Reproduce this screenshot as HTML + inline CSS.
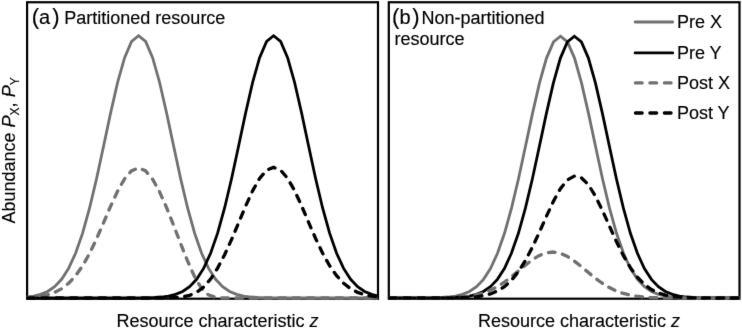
<!DOCTYPE html>
<html><head><meta charset="utf-8"><style>html,body{margin:0;padding:0;background:#fff;overflow:hidden}svg{display:block;will-change:transform}text{stroke:#000;stroke-width:0.15px}</style></head>
<body>
<svg width="742" height="329" viewBox="0 0 742 329">
<defs><filter id="b" x="0" y="0" width="742" height="329" filterUnits="userSpaceOnUse" color-interpolation-filters="sRGB"><feConvolveMatrix order="3" kernelMatrix="0.00524 0.06192 0.00524 0.06192 0.73137 0.06192 0.00524 0.06192 0.00524" divisor="1" edgeMode="duplicate"/></filter></defs><rect x="0" y="0" width="742" height="329" fill="#fff"/>
<g font-family="'Liberation Sans', sans-serif" font-size="18" fill="#000" filter="url(#b)">
<rect x="27.1" y="2.25" width="350.9" height="296.45" fill="none" stroke="#000" stroke-width="2.2"/>
<rect x="388.8" y="2.25" width="350.7" height="296.45" fill="none" stroke="#000" stroke-width="2.2"/>
<polyline points="27.50,296.93 33.60,296.07 40.60,294.37 47.60,291.45 54.60,286.69 61.60,279.31 68.60,268.44 75.60,253.25 82.60,233.14 89.60,208.00 96.60,178.47 103.60,146.03 110.60,113.03 117.60,82.49 124.60,57.63 131.60,41.36 138.60,35.70 145.60,41.36 152.60,57.63 159.60,82.49 166.60,113.03 173.60,146.03 180.60,178.47 187.60,208.00 194.60,233.14 201.60,253.25 208.60,268.44 215.60,279.31 222.60,286.69 229.60,291.45 236.60,294.37 243.60,296.07 250.60,297.02 257.60,297.52 264.60,297.78 271.60,297.90 278.60,297.96 285.60,297.98 292.60,297.99 299.60,298.00 306.60,298.00 313.60,298.00 320.60,298.00 327.60,298.00 334.60,298.00 341.60,298.00 348.60,298.00 355.60,298.00 362.60,298.00 369.60,298.00 376.60,298.00 377.50,298.00" fill="none" stroke="#707070" stroke-width="2.8" stroke-linejoin="miter"/>
<polyline points="27.50,298.00 28.60,298.00 35.60,298.00 42.60,298.00 49.60,298.00 56.60,298.00 63.60,298.00 70.60,298.00 77.60,298.00 84.60,298.00 91.60,298.00 98.60,298.00 105.60,298.00 112.60,298.00 119.60,297.99 126.60,297.98 133.60,297.96 140.60,297.90 147.60,297.78 154.60,297.52 161.60,297.02 168.60,296.07 175.60,294.37 182.60,291.45 189.60,286.69 196.60,279.31 203.60,268.44 210.60,253.25 217.60,233.14 224.60,208.00 231.60,178.47 238.60,146.03 245.60,113.03 252.60,82.49 259.60,57.63 266.60,41.36 273.60,35.70 280.60,41.36 287.60,57.63 294.60,82.49 301.60,113.03 308.60,146.03 315.60,178.47 322.60,208.00 329.60,233.14 336.60,253.25 343.60,268.44 350.60,279.31 357.60,286.69 364.60,291.45 371.60,294.37 377.50,295.86" fill="none" stroke="#000000" stroke-width="2.8" stroke-linejoin="miter"/>
<polyline points="27.50,297.47 33.40,297.06 40.40,296.23 47.40,294.80 54.40,292.47 61.40,288.86 68.40,283.52 75.40,276.05 82.40,266.15 89.40,253.75 96.40,239.16 103.40,223.09 110.40,206.72 117.40,191.51 124.40,179.09 131.40,170.90 138.40,167.97 145.40,170.71 152.40,178.83 159.40,191.43 166.40,207.22 173.40,224.82 180.40,242.98 187.40,260.59 194.40,276.33 201.40,288.23 208.40,294.87 215.40,297.30 222.40,297.88 229.40,297.98 236.40,298.00 243.40,298.00 250.40,298.00 257.40,298.00 264.40,298.00 271.40,298.00 278.40,298.00 285.40,298.00 292.40,298.00 299.40,298.00 306.40,298.00 313.40,298.00 320.40,298.00 327.40,298.00 334.40,298.00 341.40,298.00 348.40,298.00 355.40,298.00 362.40,298.00 369.40,298.00 376.40,298.00 377.50,298.00" fill="none" stroke="#707070" stroke-width="3.3" stroke-dasharray="6.7 7.6" stroke-linecap="round" stroke-linejoin="miter"/>
<polyline points="27.50,298.00 28.60,298.00 35.60,298.00 42.60,298.00 49.60,298.00 56.60,298.00 63.60,298.00 70.60,298.00 77.60,298.00 84.60,298.00 91.60,298.00 98.60,298.00 105.60,298.00 112.60,298.00 119.60,298.00 126.60,298.00 133.60,298.00 140.60,298.00 147.60,297.99 154.60,297.97 161.60,297.93 168.60,297.80 175.60,297.50 182.60,296.81 189.60,295.31 196.60,292.34 203.60,287.09 210.60,279.02 217.60,268.13 224.60,254.76 231.60,239.41 238.60,222.84 245.60,206.16 252.60,190.82 259.60,178.36 266.60,170.23 273.60,167.39 280.60,170.20 287.60,178.30 294.60,190.68 301.60,205.89 308.60,222.32 315.60,238.47 322.60,253.18 329.60,265.70 336.60,275.71 343.60,283.28 350.60,288.69 357.60,292.37 364.60,294.74 371.60,296.19 377.50,296.94" fill="none" stroke="#000000" stroke-width="3.3" stroke-dasharray="6.7 7.6" stroke-linecap="round" stroke-linejoin="miter"/>
<polyline points="389.50,298.00 392.50,298.00 399.50,298.00 406.50,297.99 413.50,297.98 420.50,297.96 427.50,297.90 434.50,297.78 441.50,297.52 448.50,297.02 455.50,296.07 462.50,294.37 469.50,291.46 476.50,286.71 483.50,279.35 490.50,268.50 497.50,253.33 504.50,233.26 511.50,208.18 518.50,178.70 525.50,146.32 532.50,113.38 539.50,82.90 546.50,58.09 553.50,41.85 560.50,36.20 567.50,41.85 574.50,58.09 581.50,82.90 588.50,113.38 595.50,146.32 602.50,178.70 609.50,208.18 616.50,233.26 623.50,253.33 630.50,268.50 637.50,279.35 644.50,286.71 651.50,291.46 658.50,294.37 665.50,296.07 672.50,297.02 679.50,297.52 686.50,297.78 693.50,297.90 700.50,297.96 707.50,297.98 714.50,297.99 721.50,298.00 728.50,298.00 735.50,298.00 739.00,298.00" fill="none" stroke="#707070" stroke-width="2.8" stroke-linejoin="miter"/>
<polyline points="389.50,298.00 392.40,298.00 399.40,298.00 406.40,298.00 413.40,298.00 420.40,297.99 427.40,297.98 434.40,297.96 441.40,297.90 448.40,297.78 455.40,297.52 462.40,297.02 469.40,296.07 476.40,294.37 483.40,291.46 490.40,286.71 497.40,279.35 504.40,268.50 511.40,253.33 518.40,233.26 525.40,208.18 532.40,178.70 539.40,146.32 546.40,113.38 553.40,82.90 560.40,58.09 567.40,41.85 574.40,36.20 581.40,41.85 588.40,58.09 595.40,82.90 602.40,113.38 609.40,146.32 616.40,178.70 623.40,208.18 630.40,233.26 637.40,253.33 644.40,268.50 651.40,279.35 658.40,286.71 665.40,291.46 672.40,294.37 679.40,296.07 686.40,297.02 693.40,297.52 700.40,297.78 707.40,297.90 714.40,297.96 721.40,297.98 728.40,297.99 735.40,298.00 739.00,298.00" fill="none" stroke="#000000" stroke-width="2.8" stroke-linejoin="miter"/>
<polyline points="389.50,298.00 391.50,298.00 398.50,298.00 405.50,298.00 412.50,297.99 419.50,297.99 426.50,297.97 433.50,297.93 440.50,297.85 447.50,297.71 454.50,297.44 461.50,296.97 468.50,296.20 475.50,294.98 482.50,293.15 489.50,290.56 496.50,287.10 503.50,282.72 510.50,277.53 517.50,271.79 524.50,265.91 531.50,260.43 538.50,255.96 545.50,253.02 552.50,252.00 559.50,253.02 566.50,255.96 573.50,260.43 580.50,265.91 587.50,271.79 594.50,277.53 601.50,282.72 608.50,287.10 615.50,290.56 622.50,293.15 629.50,294.98 636.50,296.20 643.50,296.97 650.50,297.44 657.50,297.71 664.50,297.85 671.50,297.93 678.50,297.97 685.50,297.99 692.50,297.99 699.50,298.00 706.50,298.00 713.50,298.00 720.50,298.00 727.50,298.00 734.50,298.00 739.00,298.00" fill="none" stroke="#707070" stroke-width="3.3" stroke-dasharray="6.7 7.6" stroke-linecap="round" stroke-linejoin="miter"/>
<polyline points="389.50,298.00 392.40,298.00 399.40,298.00 406.40,298.00 413.40,298.00 420.40,298.00 427.40,298.00 434.40,297.99 441.40,297.97 448.40,297.94 455.40,297.86 462.40,297.69 469.40,297.37 476.40,296.78 483.40,295.71 490.40,293.91 497.40,291.03 504.40,286.63 511.40,280.30 518.40,271.67 525.40,260.58 532.40,247.20 539.40,232.11 546.40,216.35 553.40,201.34 560.40,188.69 567.40,179.90 574.40,176.10 581.40,177.80 588.40,184.77 595.40,196.10 602.40,210.39 609.40,226.04 616.40,241.53 623.40,255.67 630.40,267.68 637.40,277.26 644.40,284.44 651.40,289.53 658.40,292.95 665.40,295.12 672.40,296.43 679.40,297.18 686.40,297.59 693.40,297.81 700.40,297.91 707.40,297.96 714.40,297.98 721.40,297.99 728.40,298.00 735.40,298.00 739.00,298.00" fill="none" stroke="#000000" stroke-width="3.3" stroke-dasharray="6.7 7.6" stroke-linecap="round" stroke-linejoin="miter"/>
<line x1="635.1" y1="22.0" x2="672.7" y2="22.0" stroke="#707070" stroke-width="2.8" stroke-linecap="round"/>
<text x="676.9" y="28.1">Pre X</text>
<line x1="635.1" y1="52.9" x2="672.7" y2="52.9" stroke="#000000" stroke-width="2.8" stroke-linecap="round"/>
<text x="676.9" y="58.6">Pre Y</text>
<line x1="635.45" y1="82.9" x2="671.1" y2="82.9" stroke="#707070" stroke-width="3.3" stroke-dasharray="6.7 7.75" stroke-linecap="round"/>
<text x="676.9" y="88.5">Post X</text>
<line x1="635.45" y1="113.0" x2="671.1" y2="113.0" stroke="#000000" stroke-width="3.3" stroke-dasharray="6.7 7.75" stroke-linecap="round"/>
<text x="676.9" y="118.6">Post Y</text>
<text y="24.2"><tspan x="31.8" font-size="22">(</tspan><tspan x="39.0" font-size="20">a</tspan><tspan x="52.2" font-size="22">)</tspan></text>
<text x="64.3" y="24">Partitioned resource</text>
<text y="24.2"><tspan x="392.1" font-size="22">(</tspan><tspan x="399.4" font-size="20">b</tspan><tspan x="412.2" font-size="22">)</tspan></text>
<text x="421.5" y="24">Non-partitioned</text>
<text x="394.6" y="45">resource</text>
<text x="116.5" y="327">Resource characteristic <tspan font-style="italic">z</tspan></text>
<text x="477.9" y="327">Resource characteristic <tspan font-style="italic">z</tspan></text>
<text transform="translate(14.5,223.5) rotate(-90)">Abundance <tspan font-style="italic">P</tspan><tspan font-size="12" dy="4.2">X</tspan><tspan dy="-4.2">, </tspan><tspan font-style="italic">P</tspan><tspan font-size="12" dy="4.2">Y</tspan></text>
</g>
</svg>
</body></html>
